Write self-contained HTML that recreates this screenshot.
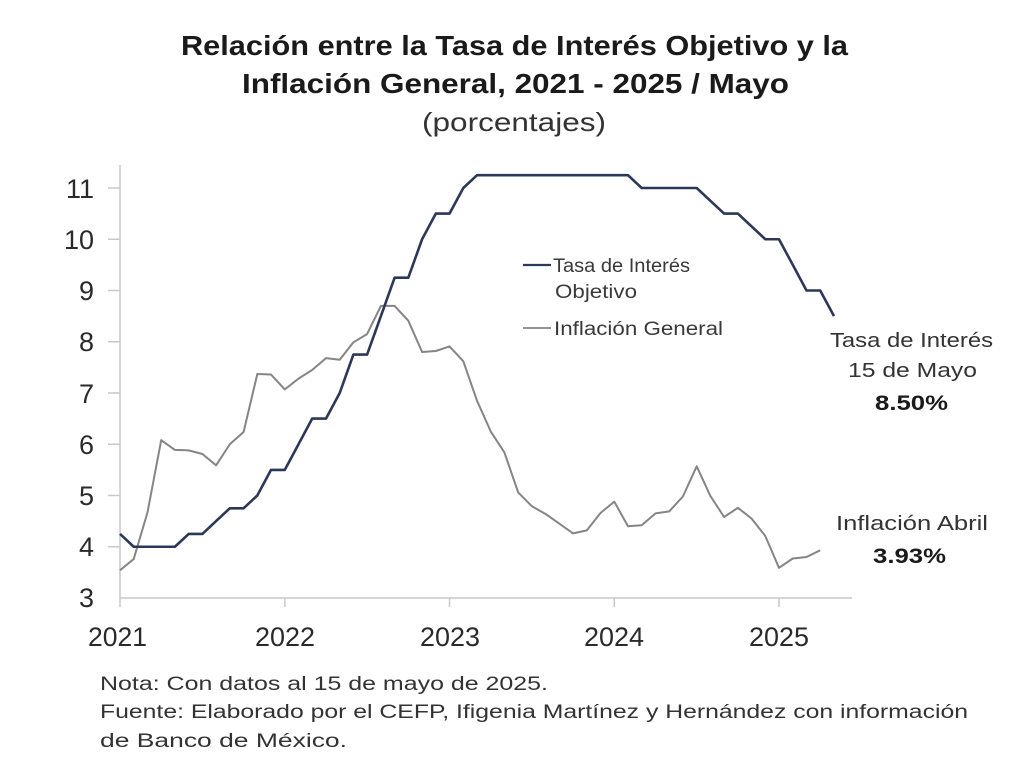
<!DOCTYPE html>
<html>
<head>
<meta charset="utf-8">
<style>
  html,body{margin:0;padding:0;background:#ffffff;}
  svg{display:block;}
  text{font-family:"Liberation Sans", sans-serif;}
</style>
</head>
<body>
<svg width="1024" height="763" viewBox="0 0 1024 763" xmlns="http://www.w3.org/2000/svg">
  <rect width="1024" height="763" fill="#ffffff"/>

  <!-- Title -->
  <text x="181" y="55" font-size="28" font-weight="bold" fill="#1a1a1a" textLength="667" lengthAdjust="spacingAndGlyphs">Relación entre la Tasa de Interés Objetivo y la</text>
  <text x="242" y="93" font-size="28" font-weight="bold" fill="#1a1a1a" textLength="547" lengthAdjust="spacingAndGlyphs">Inflación General, 2021 - 2025 / Mayo</text>
  <text x="422" y="131" font-size="26" fill="#333333" textLength="184" lengthAdjust="spacingAndGlyphs">(porcentajes)</text>

  <!-- Axes -->
  <g stroke="#c9c9c9" stroke-width="1.5" fill="none">
    <line x1="120" y1="165" x2="120" y2="607"/>
    <line x1="120" y1="598" x2="852" y2="598"/>
    <!-- y ticks -->
    <line x1="108" y1="188" x2="120" y2="188"/>
    <line x1="108" y1="239.25" x2="120" y2="239.25"/>
    <line x1="108" y1="290.5" x2="120" y2="290.5"/>
    <line x1="108" y1="341.75" x2="120" y2="341.75"/>
    <line x1="108" y1="393" x2="120" y2="393"/>
    <line x1="108" y1="444.25" x2="120" y2="444.25"/>
    <line x1="108" y1="495.5" x2="120" y2="495.5"/>
    <line x1="108" y1="546.75" x2="120" y2="546.75"/>
    <!-- x ticks -->
    <line x1="284.8" y1="598" x2="284.8" y2="607"/>
    <line x1="449.5" y1="598" x2="449.5" y2="607"/>
    <line x1="614.3" y1="598" x2="614.3" y2="607"/>
    <line x1="779" y1="598" x2="779" y2="607"/>
  </g>

  <!-- Y labels -->
  <g font-size="27" fill="#2a2a2a" text-anchor="end">
    <text x="94" y="198">11</text>
    <text x="94" y="249">10</text>
    <text x="94" y="300">9</text>
    <text x="94" y="351">8</text>
    <text x="94" y="403">7</text>
    <text x="94" y="454">6</text>
    <text x="94" y="505">5</text>
    <text x="94" y="556">4</text>
    <text x="94" y="607">3</text>
  </g>

  <!-- X labels -->
  <g font-size="27" fill="#2a2a2a">
    <text x="88" y="646" textLength="59" lengthAdjust="spacingAndGlyphs">2021</text>
    <text x="255" y="646" textLength="60" lengthAdjust="spacingAndGlyphs">2022</text>
    <text x="420" y="646" textLength="60" lengthAdjust="spacingAndGlyphs">2023</text>
    <text x="584" y="646" textLength="60" lengthAdjust="spacingAndGlyphs">2024</text>
    <text x="749" y="646" textLength="60" lengthAdjust="spacingAndGlyphs">2025</text>
  </g>

  <!-- Inflación General -->
  <polyline fill="none" stroke="#858585" stroke-width="2" stroke-linejoin="round"
    points="120,570.3 133.7,559.05 147.5,512.4 161.2,440.15 174.9,449.9 188.7,450.4 202.4,454 216.1,465.3 229.8,444.25 243.6,432 257.3,374.05 271,374.55 284.8,389.4 298.5,378.65 312.2,369.95 326,358.15 339.7,359.7 353.4,342.3 367.1,334.1 380.9,305.9 394.6,305.9 408.3,320.7 422.1,352 435.8,351 449.5,346.4 463.3,361.2 477,400.7 490.7,431.4 504.4,452.45 518.2,492.4 531.9,506.3 545.6,514 559.4,523.7 573.1,533.4 586.8,530.35 600.6,512.9 614.3,501.65 628,526.25 641.7,525.2 655.5,513.4 669.2,511.4 682.9,496.5 696.7,466.3 710.4,496 724.1,517 737.9,507.8 751.6,518.6 765.3,536 779,567.8 792.8,558.5 806.5,557 820.2,550.3"/>

  <!-- Tasa de Interés Objetivo -->
  <polyline fill="none" stroke="#2c3858" stroke-width="2.6" stroke-linejoin="round"
    points="120,533.9 133.7,546.75 147.5,546.75 161.2,546.75 174.9,546.75 188.7,533.9 202.4,533.9 216.1,521.1 229.8,508.3 243.6,508.3 257.3,495.5 271,469.9 284.8,469.9 298.5,444.25 312.2,418.6 326,418.6 339.7,393 353.4,354.6 367.1,354.6 380.9,316.1 394.6,277.7 408.3,277.7 422.1,239.25 435.8,213.6 449.5,213.6 463.3,188 477,175.2 490.7,175.2 504.4,175.2 518.2,175.2 531.9,175.2 545.6,175.2 559.4,175.2 573.1,175.2 586.8,175.2 600.6,175.2 614.3,175.2 628,175.2 641.7,188 655.5,188 669.2,188 682.9,188 696.7,188 710.4,200.8 724.1,213.6 737.9,213.6 751.6,226.4 765.3,239.25 779,239.25 792.8,264.9 806.5,290.5 820.2,290.5 834,316.1"/>

  <!-- Legend -->
  <line x1="523" y1="265" x2="551" y2="265" stroke="#2c3858" stroke-width="2.2"/>
  <text x="553" y="272" font-size="19" fill="#3a3a3a" textLength="137" lengthAdjust="spacingAndGlyphs">Tasa de Interés</text>
  <text x="555" y="298" font-size="19" fill="#3a3a3a" textLength="82" lengthAdjust="spacingAndGlyphs">Objetivo</text>
  <line x1="523" y1="328" x2="551" y2="328" stroke="#858585" stroke-width="1.8"/>
  <text x="554" y="335" font-size="19" fill="#3a3a3a" textLength="169" lengthAdjust="spacingAndGlyphs">Inflación General</text>

  <!-- Annotations -->
  <text x="830" y="347" font-size="20" fill="#333333" textLength="163" lengthAdjust="spacingAndGlyphs">Tasa de Interés</text>
  <text x="848" y="377" font-size="20" fill="#333333" textLength="129" lengthAdjust="spacingAndGlyphs">15 de Mayo</text>
  <text x="875" y="410" font-size="21" font-weight="bold" fill="#1a1a1a" textLength="73" lengthAdjust="spacingAndGlyphs">8.50%</text>
  <text x="836" y="530" font-size="20" fill="#333333" textLength="152" lengthAdjust="spacingAndGlyphs">Inflación Abril</text>
  <text x="873" y="563" font-size="21" font-weight="bold" fill="#1a1a1a" textLength="73" lengthAdjust="spacingAndGlyphs">3.93%</text>

  <!-- Footnotes -->
  <text x="100" y="690" font-size="19" fill="#333333" textLength="448" lengthAdjust="spacingAndGlyphs">Nota: Con datos al 15 de mayo de 2025.</text>
  <text x="100" y="718" font-size="19" fill="#333333" textLength="868" lengthAdjust="spacingAndGlyphs">Fuente: Elaborado por el CEFP, Ifigenia Martínez y Hernández con información</text>
  <text x="100" y="747" font-size="19" fill="#333333" textLength="247" lengthAdjust="spacingAndGlyphs">de Banco de México.</text>
</svg>
</body>
</html>
